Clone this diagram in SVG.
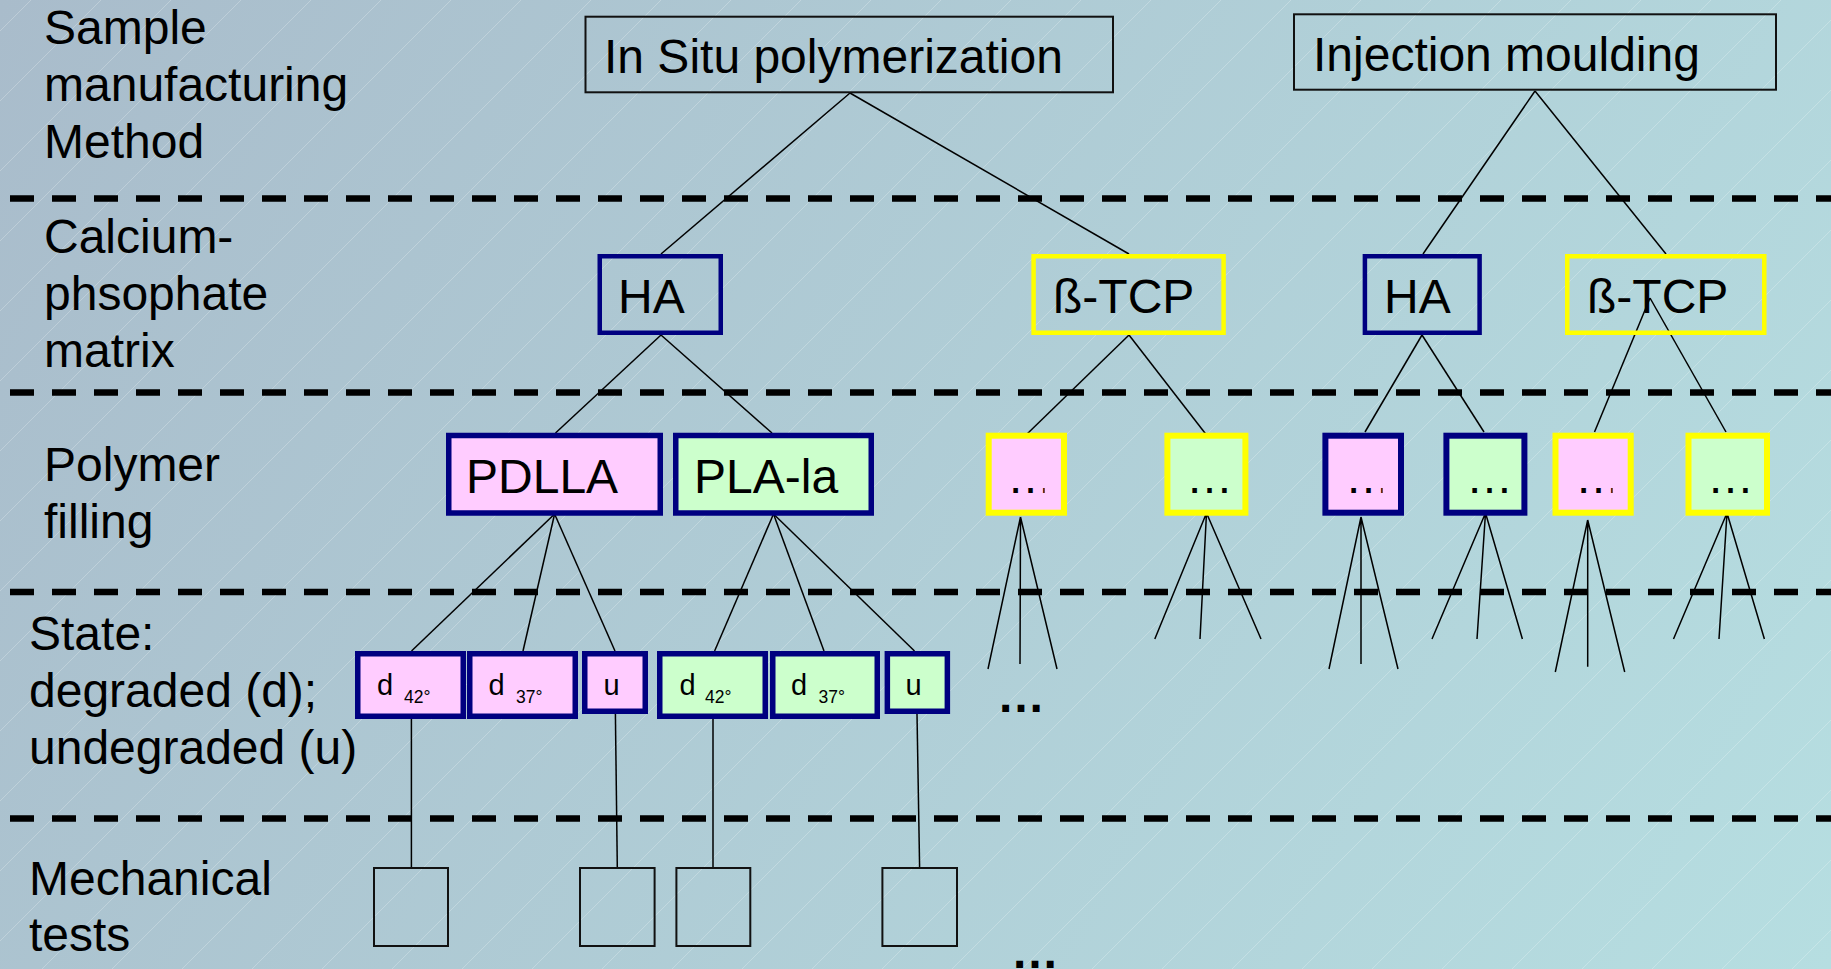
<svg xmlns="http://www.w3.org/2000/svg" width="1831" height="969" viewBox="0 0 1831 969">
<defs>
<linearGradient id="bg" gradientUnits="userSpaceOnUse" x1="0" y1="0" x2="1831" y2="969">
<stop offset="0" stop-color="#a9bccb"/>
<stop offset="1" stop-color="#b6dee1"/>
</linearGradient>
<pattern id="hatch" patternUnits="userSpaceOnUse" width="70" height="70">
<path d="M-10,41 L41,-10 M21,80 L80,21" stroke="#ffffff" stroke-width="0.8" stroke-opacity="0.3" fill="none"/>
</pattern>
<clipPath id="cut" clipPathUnits="objectBoundingBox"><rect x="0" y="0" width="0.8" height="1"/></clipPath>
</defs>
<style>
text{font-family:"Liberation Sans",Arial,sans-serif;fill:#000}
.lbl{font-size:48px}
.big{font-size:48px}
.st{font-size:29px}
.sub{font-size:17.5px}
.ell{font-size:47px}
.bell{font-size:48px;font-weight:bold}
.top{fill:none;stroke:#111;stroke-width:2}
.navy{fill:none;stroke:#000080;stroke-width:4.5}
.yel{fill:none;stroke:#ffff00;stroke-width:4.5}
.pn{fill:#ffccff;stroke:#000080;stroke-width:5.5}
.gn{fill:#ccffcc;stroke:#000080;stroke-width:5.5}
.py{fill:#ffccff;stroke:#ffff00;stroke-width:6}
.gy{fill:#ccffcc;stroke:#ffff00;stroke-width:6}
.pnav{fill:#ffccff;stroke:#000080;stroke-width:6}
.gnav{fill:#ccffcc;stroke:#000080;stroke-width:6}
.mt{fill:none;stroke:#111;stroke-width:2}
.sep{stroke:#000;stroke-width:6.5;stroke-dasharray:24 18;fill:none}
.ln{stroke:#000;stroke-width:1.5;fill:none}
</style>
<rect x="0" y="0" width="1831" height="969" fill="url(#bg)"/>
<rect x="0" y="0" width="1831" height="969" fill="url(#hatch)"/>

<g id="separators">
<line class="sep" x1="10" y1="198.5" x2="1831" y2="198.5"/>
<line class="sep" x1="10" y1="392.5" x2="1831" y2="392.5"/>
<line class="sep" x1="10" y1="592" x2="1831" y2="592"/>
<line class="sep" x1="10" y1="818.5" x2="1831" y2="818.5"/>
</g>

<g id="row-labels">
<text class="lbl" x="44" y="44">Sample</text>
<text class="lbl" x="44" y="101">manufacturing</text>
<text class="lbl" x="44" y="158">Method</text>
<text class="lbl" x="44" y="253">Calcium-</text>
<text class="lbl" x="44" y="310">phsophate</text>
<text class="lbl" x="44" y="367">matrix</text>
<text class="lbl" x="44" y="481">Polymer</text>
<text class="lbl" x="44" y="538">filling</text>
<text class="lbl" x="29" y="650">State:</text>
<text class="lbl" x="29" y="707">degraded (d);</text>
<text class="lbl" x="29" y="764">undegraded (u)</text>
<text class="lbl" x="29" y="895">Mechanical</text>
<text class="lbl" x="29" y="951">tests</text>
</g>

<g id="connectors">
<line class="ln" x1="850" y1="93" x2="661" y2="254"/>
<line class="ln" x1="850" y1="93" x2="1129" y2="254"/>
<line class="ln" x1="1535" y1="91" x2="1423" y2="254"/>
<line class="ln" x1="1535" y1="91" x2="1666" y2="254"/>
<line class="ln" x1="661" y1="335" x2="555.5" y2="433"/>
<line class="ln" x1="661" y1="335" x2="772" y2="433"/>
<line class="ln" x1="1129" y1="335" x2="1026" y2="435"/>
<line class="ln" x1="1129" y1="335" x2="1206.5" y2="435"/>
<line class="ln" x1="1422" y1="335" x2="1365" y2="432"/>
<line class="ln" x1="1422" y1="335" x2="1484" y2="432"/>
<line class="ln" x1="1650" y1="298" x2="1594.5" y2="432"/>
<line class="ln" x1="1650" y1="298" x2="1726" y2="432"/>
<line class="ln" x1="554.6" y1="514" x2="411.5" y2="651"/>
<line class="ln" x1="554.6" y1="514" x2="523" y2="651"/>
<line class="ln" x1="554.6" y1="514" x2="615" y2="651"/>
<line class="ln" x1="773.5" y1="514" x2="714.6" y2="651"/>
<line class="ln" x1="773.5" y1="514" x2="824" y2="651"/>
<line class="ln" x1="773.5" y1="514" x2="914.5" y2="651"/>
<line class="ln" x1="411.4" y1="719" x2="411.4" y2="867"/>
<line class="ln" x1="615.4" y1="714" x2="617.3" y2="867"/>
<line class="ln" x1="713" y1="719" x2="713" y2="867"/>
<line class="ln" x1="917" y1="714" x2="919.6" y2="867"/>
<path class="ln" d="M1020.5,517 L988,669 M1020.5,517 L1020,664 M1020.5,517 L1057,669"/>
<path class="ln" d="M1206.5,513 L1154.8,639 M1206.5,513 L1200,639 M1206.5,513 L1261,639"/>
<path class="ln" d="M1361,517 L1329,669 M1361,517 L1361,664 M1361,517 L1398,669"/>
<path class="ln" d="M1485.5,513 L1432,639 M1485.5,513 L1477,639 M1485.5,513 L1522.4,639"/>
<path class="ln" d="M1587.7,520 L1555.3,672 M1587.7,520 L1587.7,666.7 M1587.7,520 L1624.7,672"/>
<path class="ln" d="M1727,513 L1673.5,639 M1727,513 L1719,639 M1727,513 L1764.4,639"/>
</g>

<g id="in-situ">
<rect class="top" x="585.5" y="16.7" width="527.5" height="75.6"/>
<text class="big" x="604" y="73">In Situ polymerization</text>
</g>
<g id="injection">
<rect class="top" x="1294" y="14.3" width="482" height="75.4"/>
<text class="big" x="1313" y="71">Injection moulding</text>
</g>

<g id="ha-insitu">
<rect class="navy" x="599.75" y="256.25" width="121" height="76.5"/>
<text class="big" x="618" y="313">HA</text>
</g>
<g id="tcp-insitu">
<rect class="yel" x="1033.6" y="256.25" width="190" height="76.5"/>
<text class="big" x="1053" y="313">ß-TCP</text>
</g>
<g id="ha-injection">
<rect class="navy" x="1364.9" y="256.25" width="114.7" height="76.5"/>
<text class="big" x="1384" y="313">HA</text>
</g>
<g id="tcp-injection">
<rect class="yel" x="1567.25" y="256.25" width="197" height="76.5"/>
<text class="big" x="1587" y="313">ß-TCP</text>
</g>

<g id="pdlla">
<rect class="pn" x="448.75" y="435.5" width="211.5" height="77.5"/>
<text class="big" x="466" y="493">PDLLA</text>
</g>
<g id="pla-la">
<rect class="gn" x="675.75" y="435.5" width="195.5" height="77.5"/>
<text class="big" x="694" y="493">PLA-la</text>
</g>

<g id="tcp1-pink">
<rect class="py" x="988.7" y="435.7" width="75.3" height="77"/>
<text class="ell" x="1007" y="493" clip-path="url(#cut)">…</text>
</g>
<g id="tcp1-green">
<rect class="gy" x="1167.4" y="435.7" width="78" height="77"/>
<text class="ell" x="1186" y="493">…</text>
</g>
<g id="ha2-pink">
<rect class="pnav" x="1325.4" y="435.7" width="75.6" height="77"/>
<text class="ell" x="1345" y="493" clip-path="url(#cut)">…</text>
</g>
<g id="ha2-green">
<rect class="gnav" x="1446.4" y="435.7" width="78" height="77"/>
<text class="ell" x="1466" y="493">…</text>
</g>
<g id="tcp2-pink">
<rect class="py" x="1555.5" y="435.7" width="75.2" height="77"/>
<text class="ell" x="1575" y="493" clip-path="url(#cut)">…</text>
</g>
<g id="tcp2-green">
<rect class="gy" x="1688.5" y="435.7" width="78.5" height="77"/>
<text class="ell" x="1707" y="493">…</text>
</g>

<g id="pdlla-d42">
<rect class="pn" x="357.75" y="653.75" width="105.5" height="62.5"/>
<text class="st" x="377" y="695">d</text><text class="sub" x="404" y="703">42°</text>
</g>
<g id="pdlla-d37">
<rect class="pn" x="469.75" y="653.75" width="105.5" height="62.5"/>
<text class="st" x="488.5" y="695">d</text><text class="sub" x="516" y="703">37°</text>
</g>
<g id="pdlla-u">
<rect class="pn" x="584.75" y="653.75" width="60.5" height="57.5"/>
<text class="st" x="603.5" y="695">u</text>
</g>
<g id="plala-d42">
<rect class="gn" x="659.75" y="653.75" width="105.5" height="62.5"/>
<text class="st" x="679.5" y="695">d</text><text class="sub" x="705" y="703">42°</text>
</g>
<g id="plala-d37">
<rect class="gn" x="772.75" y="653.75" width="104.5" height="62.5"/>
<text class="st" x="791" y="695">d</text><text class="sub" x="818.5" y="703">37°</text>
</g>
<g id="plala-u">
<rect class="gn" x="887.35" y="653.75" width="60" height="57.5"/>
<text class="st" x="905.5" y="695">u</text>
</g>

<g id="state-more">
<text class="bell" x="997" y="712">…</text>
</g>

<g id="test-1"><rect class="mt" x="374" y="868" width="74" height="78"/></g>
<g id="test-2"><rect class="mt" x="580" y="868" width="74.6" height="78"/></g>
<g id="test-3"><rect class="mt" x="676.4" y="868" width="73.9" height="78"/></g>
<g id="test-4"><rect class="mt" x="882.4" y="868" width="74.6" height="78"/></g>

<g id="tests-more">
<text class="bell" x="1011" y="968">…</text>
</g>
</svg>
